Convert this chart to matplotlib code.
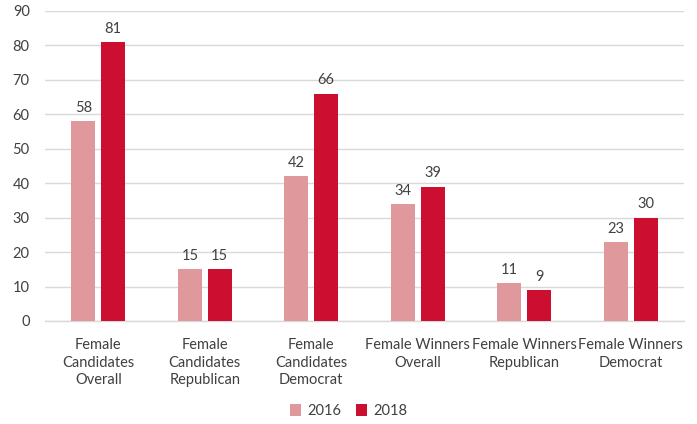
import numpy as np
import matplotlib.pyplot as plt

# data
categories = ["Female\nCandidates\nOverall", "Female\nCandidates\nRepublican",
              "Female\nCandidates\nDemocrat", "Female Winners\nOverall",
              "Female Winners\nRepublican", "Female Winners\nDemocrat"]
vals_2016 = [58, 15, 42, 34, 11, 23]
vals_2018 = [81, 15, 66, 39, 9, 30]
series_labels = ["2016", "2018"]

c16 = "#DF989B"
c18 = "#CC0F31"
txt = "#404040"

plt.rcParams["font.family"] = ["Lato", "DejaVu Sans"]

fig = plt.figure(figsize=(6.97, 4.24), dpi=100)
ax = fig.add_axes([45 / 697, 1 - 321 / 424, 639 / 697, 310 / 424])

x = np.arange(len(categories))
w = 0.225
off = 0.14
b1 = ax.bar(x - off, vals_2016, w, color=c16, label=series_labels[0], zorder=3)
b2 = ax.bar(x + off, vals_2018, w, color=c18, label=series_labels[1], zorder=3)

for bars in (b1, b2):
    for r in bars:
        ax.text(r.get_x() + r.get_width() / 2, r.get_height() + 1.8,
                f"{int(r.get_height())}", ha="center", va="bottom",
                fontsize=10.5, color=txt)

ax.set_xlim(-0.5, len(categories) - 0.5)
ax.set_ylim(0, 90)
ax.set_yticks(range(0, 91, 10))
ax.yaxis.grid(True, color="#D9D9D9", linewidth=1, zorder=0)
ax.set_axisbelow(True)
for s in ["top", "right", "left"]:
    ax.spines[s].set_visible(False)
ax.spines["bottom"].set_color("#D9D9D9")
ax.spines["bottom"].set_linewidth(1)
ax.tick_params(axis="both", length=0, labelsize=10.5, colors=txt)
ax.tick_params(axis="x", pad=12)
ax.tick_params(axis="y", pad=11)
ax.set_xticks(x)
ax.set_xticklabels(categories, linespacing=1.35)

fig.legend(loc="center", bbox_to_anchor=(0.5, 1 - 411 / 424), ncol=2, frameon=False,
           fontsize=10.5, handlelength=0.8, handleheight=0.8, handletextpad=0.4,
           columnspacing=1.0, labelcolor=txt)

fig.savefig("out.png", dpi=100)
